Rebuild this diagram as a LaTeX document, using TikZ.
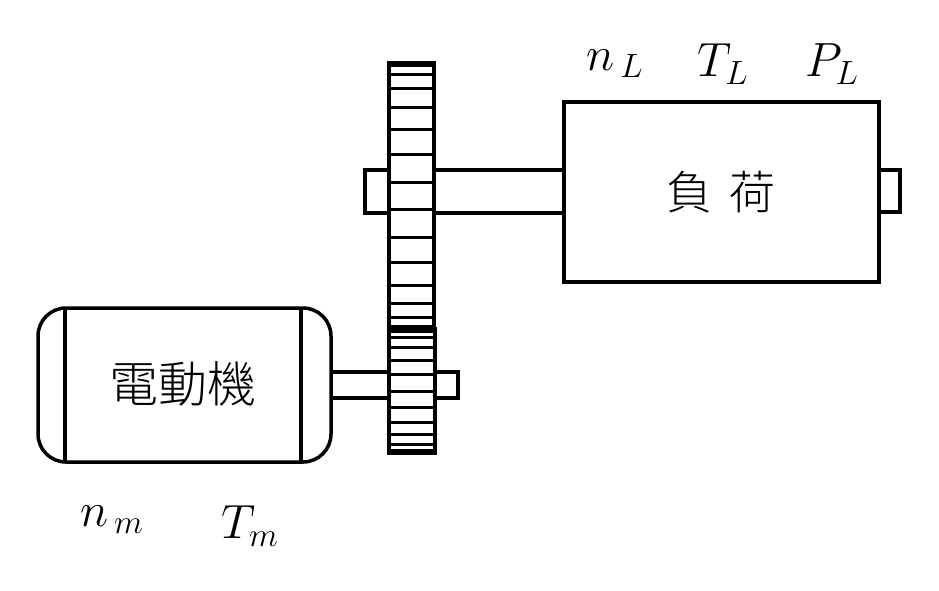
\RequirePackage{fix-cm}
\documentclass[tikz,border=0pt]{standalone}
\usepackage{fontspec}
\newfontfamily\cjk{Noto Sans CJK TC Light}
\begin{document}
\begin{tikzpicture}[x=1pt,y=-1pt,line width=3.5pt,
  part/.style={draw=black, line width=3.5pt},
  tooth/.style={line width=3pt},
  qty/.style={font=\fontsize{48}{48}\selectfont}]
      \useasboundingbox (0,0) rectangle (939,590);

      % load and its shaft
      \draw[part] (365,170) rectangle (564,213);
      \draw[part, fill=white] (879,170) rectangle (900,212);
      \draw[part, fill=white] (564,102) rectangle (879,282);
      \node[font=\cjk\fontsize{46}{46}\selectfont] (load) at (721,192) {負\hspace{18pt}荷};

      % motor and its shaft
      \draw[part] (331,372) rectangle (458,398);
      \draw[part, fill=white, rounded corners=28pt] (38,308) rectangle (331,462);
      \draw[part] (65,308) -- (65,462);
      \draw[part] (301,308) -- (301,462);
      \node[font=\cjk\fontsize{49}{49}\selectfont] (motor) at (183,384) {電動機};

      % gears
      \draw[part, fill=white] (389,63) rectangle (434,329);
      \foreach \a in {12,24,...,168} {
        \draw[tooth] (389,{196-133*cos(\a)}) -- (434,{196-133*cos(\a)});
      }
      \draw[part, fill=white] (389,329) rectangle (435,453);
      \foreach \a in {15,30,...,165} {
        \draw[tooth] (389,{391-62*cos(\a)}) -- (435,{391-62*cos(\a)});
      }
      \draw[part] (389,170) -- (365,170) -- (365,213) -- (389,213);
      \draw[part] (435,372) -- (458,372) -- (458,398) -- (435,398);

      % quantities
      \node[qty] (nL) at (615,64) {$n_{\,L}$};
      \node[qty] (TL) at (723,64) {$T_{L}$};
      \node[qty] (PL) at (832,64) {$P_{L}$};
      \node[qty] (nm) at (112,520) {$n_{\,m}$};
      \node[qty] (Tm) at (250,526) {$T_{m}$};
\end{tikzpicture}
\end{document}
